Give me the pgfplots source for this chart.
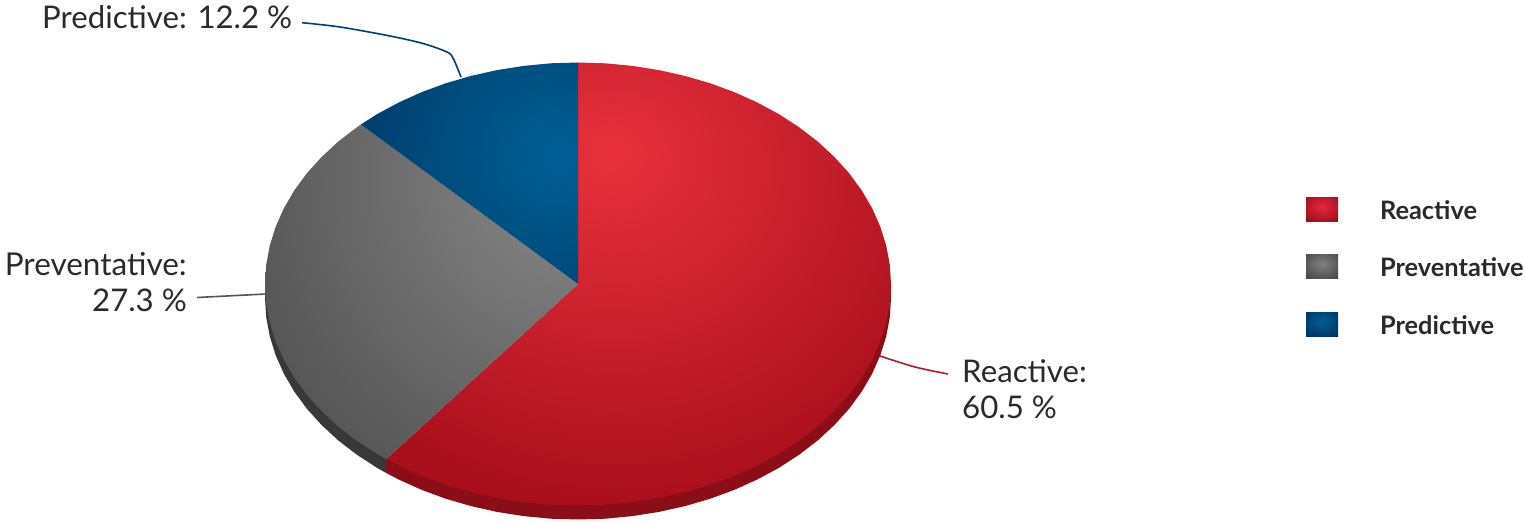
\documentclass[border=0pt]{standalone}
\usepackage{pgfplots}
\pgfplotsset{compat=1.18}
\usepackage{fontspec}
\setmainfont{Lato}
\definecolor{txt}{HTML}{2A2A2A}
\definecolor{redrim}{HTML}{8A0D17}
\definecolor{grayrim}{HTML}{383838}
\definecolor{redline}{HTML}{B31A26}
\definecolor{grayline}{HTML}{555555}
\definecolor{blueline}{HTML}{003F72}
\pgfdeclareradialshading{redpie}{\pgfpoint{-2.8bp}{15.1bp}}{%
 rgb(0bp)=(0.91,0.19,0.23);
 rgb(6bp)=(0.87,0.17,0.22);
 rgb(36bp)=(0.66,0.06,0.105);
 rgb(120bp)=(0.66,0.06,0.105)}
\pgfdeclareradialshading{graypie}{\pgfpoint{26.9bp}{20.4bp}}{%
 rgb(0bp)=(0.55,0.55,0.55);
 rgb(52bp)=(0.32,0.32,0.32);
 rgb(160bp)=(0.32,0.32,0.32)}
\pgfdeclareradialshading{bluepie}{\pgfpoint{20.9bp}{4.1bp}}{%
 rgb(0bp)=(0,0.37,0.59);
 rgb(12bp)=(0,0.34,0.54);
 rgb(42bp)=(0,0.24,0.43);
 rgb(160bp)=(0,0.24,0.43)}
\pgfdeclareradialshading{redkey}{\pgfpoint{0bp}{6bp}}{%
 rgb(0bp)=(0.89,0.16,0.23);
 rgb(36bp)=(0.62,0.05,0.11);
 rgb(100bp)=(0.62,0.05,0.11)}
\pgfdeclareradialshading{graykey}{\pgfpoint{0bp}{6bp}}{%
 rgb(0bp)=(0.50,0.50,0.50);
 rgb(36bp)=(0.28,0.28,0.28);
 rgb(100bp)=(0.28,0.28,0.28)}
\pgfdeclareradialshading{bluekey}{\pgfpoint{0bp}{6bp}}{%
 rgb(0bp)=(0,0.37,0.60);
 rgb(36bp)=(0,0.20,0.36);
 rgb(100bp)=(0,0.20,0.36)}
\begin{document}
\begin{tikzpicture}
\useasboundingbox (0,0) rectangle (1525bp,523bp);
\begin{axis}[
  at={(0,0)}, anchor=south west,
  scale only axis, width=1525bp, height=523bp,
  xmin=0, xmax=1525, ymin=0, ymax=523, y dir=reverse,
  axis lines=none, clip=false,
  legend cell align=left,
  legend style={draw=none, fill=none, at={(axis cs:1306,197)}, anchor=north west,
    inner sep=0pt, outer sep=0pt, row sep=33.5bp, column sep=42bp,
    font=\fontsize{25.4bp}{25.4bp}\selectfont\bfseries\color{txt},
    nodes={inner sep=0pt, outer sep=0pt, anchor=base west}},
]
% rims
\addplot[forget plot, draw=none, fill=redrim] coordinates {
(891,284)(891,298)(889.8,317.3)(886.2,336.5)(880.3,355.3)(872.1,373.8)(861.7,391.6)(849.1,408.8)(834.4,425)(817.8,440.4)(799.3,454.6)(779.2,467.7)(757.5,479.4)(734.5,489.8)(710.3,498.7)(685,506.1)(659,511.9)(632.3,516.1)(605.3,518.7)(578,519.5)(550.7,518.7)(523.7,516.1)(497,511.9)(471,506.1)(445.7,498.7)(421.5,489.8)(398.5,479.4)(386.2,473)(386.2,459)} -- cycle;
\addplot[forget plot, draw=none, fill=grayrim] coordinates {
(386.2,459)(386.2,473)(376.8,467.7)(356.7,454.6)(338.2,440.4)(321.6,425)(306.9,408.8)(294.3,391.6)(283.9,373.8)(275.7,355.3)(269.8,336.5)(266.2,317.3)(265,298)(265,284)} -- cycle;
% top faces
\addplot[draw=none, shading=redpie,
  legend image code/.code={\path[shading=redkey] (0bp,-2bp) rectangle (32bp,22bp);}] coordinates {
(578,284)(578,62.5)(605.3,63.3)(632.3,65.9)(659,70.1)(685,75.9)(710.3,83.3)(734.5,92.2)(757.5,102.6)(779.2,114.3)(799.3,127.4)(817.8,141.6)(834.4,157)(849.1,173.2)(861.7,190.4)(872.1,208.2)(880.3,226.7)(886.2,245.5)(889.8,264.7)(891,284)(889.8,303.3)(886.2,322.5)(880.3,341.3)(872.1,359.8)(861.7,377.6)(849.1,394.8)(834.4,411)(817.8,426.4)(799.3,440.6)(779.2,453.7)(757.5,465.4)(734.5,475.8)(710.3,484.7)(685,492.1)(659,497.9)(632.3,502.1)(605.3,504.7)(578,505.5)(550.7,504.7)(523.7,502.1)(497,497.9)(471,492.1)(445.7,484.7)(421.5,475.8)(398.5,465.4)(386.2,459)} -- cycle;
\addplot[draw=none, shading=graypie,
  legend image code/.code={\path[shading=graykey] (0bp,-2bp) rectangle (32bp,22bp);}] coordinates {
(578,284)(386.2,459)(376.8,453.7)(356.7,440.6)(338.2,426.4)(321.6,411)(306.9,394.8)(294.3,377.6)(283.9,359.8)(275.7,341.3)(269.8,322.5)(266.2,303.3)(265,284)(266.2,264.7)(269.8,245.5)(275.7,226.7)(283.9,208.2)(294.3,190.4)(306.9,173.2)(321.6,157)(338.2,141.6)(356.7,127.4)(360.9,124.5)} -- cycle;
\addplot[draw=none, shading=bluepie,
  legend image code/.code={\path[shading=bluekey] (0bp,-2bp) rectangle (32bp,22bp);}] coordinates {
(578,284)(360.9,124.5)(376.8,114.3)(398.5,102.6)(421.5,92.2)(445.7,83.3)(471,75.9)(497,70.1)(523.7,65.9)(550.7,63.3)(578,62.5)} -- cycle;
% leader lines
\addplot[forget plot, smooth, tension=0.5, color=redline, line width=1.6bp] coordinates {(880,356)(915,367)(948,374)};
\addplot[forget plot, color=grayline, line width=1.6bp] coordinates {(197,297.5)(266,294)};
\addplot[forget plot, smooth, tension=0.5, color=blueline, line width=1.6bp] coordinates {(302,22.7)(340,27)(390,36)(423,43.5)(447,52)(453,58)(461,77)};
\legend{Reactive,Preventative,Predictive}
% labels
\node[anchor=base west, inner sep=0pt, font=\fontsize{31.2bp}{36bp}\selectfont, text=txt] at (axis cs:42,29) {Predictive: 12.2 \%};
\node[anchor=base east, inner sep=0pt, font=\fontsize{31.5bp}{36bp}\selectfont, text=txt] at (axis cs:187,275) {Preventative:};
\node[anchor=base east, inner sep=0pt, font=\fontsize{31.2bp}{36bp}\selectfont, text=txt] at (axis cs:187,311) {27.3 \%};
\node[anchor=base west, inner sep=0pt, font=\fontsize{31.2bp}{36bp}\selectfont, text=txt] at (axis cs:962,382) {Reactive:};
\node[anchor=base west, inner sep=0pt, font=\fontsize{31.2bp}{36bp}\selectfont, text=txt] at (axis cs:962,418) {60.5 \%};
\end{axis}
\end{tikzpicture}
\end{document}
